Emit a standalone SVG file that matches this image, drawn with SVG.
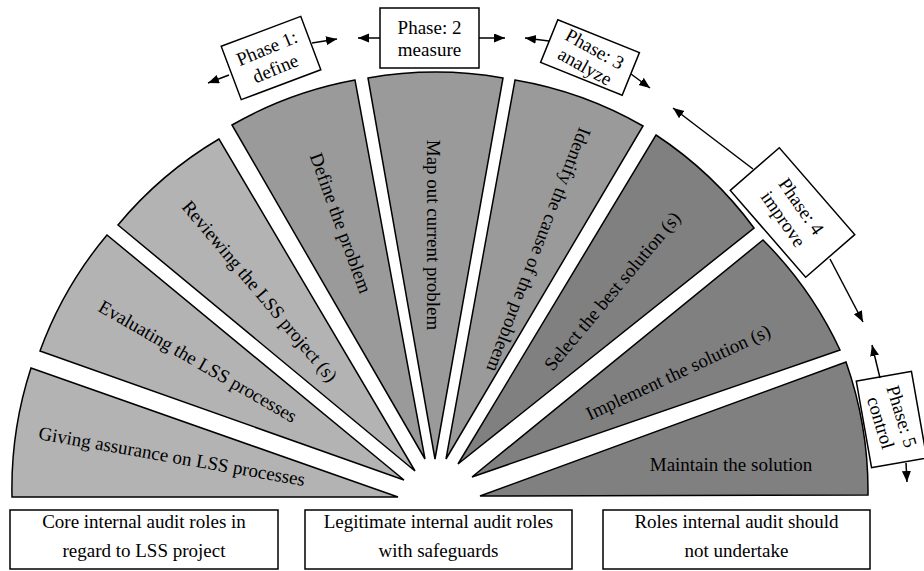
<svg xmlns="http://www.w3.org/2000/svg" width="924" height="571" viewBox="0 0 924 571">
<style>
.w{stroke:#000;stroke-width:1.5;stroke-linejoin:miter}
.l{fill:#b3b3b3}.m{fill:#9a9a9a}.d{fill:#808080}
text{font-family:"Liberation Serif","Times New Roman",serif;font-size:19px;fill:#000;text-anchor:middle}
.box{fill:#fff;stroke:#000;stroke-width:1.5}
.ar{stroke:#000;stroke-width:1.5;fill:none;marker-end:url(#ah)}
</style>
<defs>
<marker id="ah" markerUnits="userSpaceOnUse" markerWidth="12" markerHeight="10" refX="11" refY="4.5" orient="auto">
<path d="M0,0 L11,4.5 L0,9 z" fill="#000"/>
</marker>
</defs>
<rect width="924" height="571" fill="#fff"/>

<g id="w1"><path class="w l" d="M398,497 L12,497 A388,388 0 0 1 31,368 Z"/><text transform="translate(172,456) rotate(10)" dy="0.35em">Giving assurance on LSS processes</text></g>
<g id="w2"><path class="w l" d="M404,480 L40,351 A386,386 0 0 1 107,235 Z"/><text transform="translate(198,361) rotate(30)" dy="0.35em">Evaluating the LSS processes</text></g>
<g id="w3"><path class="w l" d="M415,471 L118,225 A386,386 0 0 1 219,139 Z"/><text transform="translate(260,291) rotate(50)" dy="0.35em">Reviewing the LSS project (s)</text></g>
<g id="w4"><path class="w m" d="M425,459 L232,125 A386,386 0 0 1 355,80 Z"/><text transform="translate(341,223) rotate(70)" dy="0.35em">Define the problem</text></g>
<g id="w5"><path class="w m" d="M435,459 L368,78 A387,387 0 0 1 503,78 Z"/><text transform="translate(434,235) rotate(90)" dy="0.35em">Map out current problem</text></g>
<g id="w6"><path class="w m" d="M446,459 L515,80 A386,386 0 0 1 643,126 Z"/><text transform="translate(539,250) rotate(111)" dy="0.35em">Identify the cause of the probleem</text></g>
<g id="w7"><path class="w d" d="M458,464 L656,135 A384,384 0 0 1 754,228 Z"/><text transform="translate(612,291) rotate(-50)" dy="0.35em">Select the best solution (s)</text></g>
<g id="w8"><path class="w d" d="M472,477 L763,240 A386,386 0 0 1 840,350 Z"/><text transform="translate(678,372) rotate(-25)" dy="0.35em">Implement the solution (s)</text></g>
<g id="w9"><path class="w d" d="M480,496 L846,362 A389,389 0 0 1 868,495 Z"/><text transform="translate(731,464)" dy="0.35em">Maintain the solution</text></g>

<g id="p1" transform="translate(271,58) rotate(-20.6)"><rect class="box" x="-42.5" y="-28.5" width="85" height="57"/><g transform="rotate(-2)"><text y="-11" dy="0.35em">Phase 1:</text><text y="11" dy="0.35em">define</text></g></g>
<g id="p2"><rect class="box" x="380" y="8" width="99" height="60"/><text x="429.5" y="27" dy="0.35em">Phase: 2</text><text x="429.5" y="49" dy="0.35em">measure</text></g>
<g id="p3" transform="translate(590,57.5) rotate(22)"><rect class="box" x="-44" y="-23" width="88" height="46"/><g transform="rotate(7)"><text y="-10" dy="0.35em">Phase: 3</text><text y="10" dy="0.35em">analyze</text></g></g>
<g id="p4" transform="translate(792.5,212.5) rotate(49)"><rect class="box" x="-57.5" y="-32.5" width="115" height="65"/><g transform="rotate(6)"><text y="-11" dy="0.35em">Phase: 4</text><text y="11" dy="0.35em">improve</text></g></g>
<g id="p5" transform="translate(891.5,419.5) rotate(80)"><rect class="box" x="-44" y="-28" width="88" height="56"/><g transform="rotate(-7)"><text y="-11" dy="0.35em">Phase: 5</text><text y="11" dy="0.35em">control</text></g></g>

<g id="connectors">
<line class="ar" x1="229" y1="75" x2="208" y2="83"/>
<line class="ar" x1="312" y1="43" x2="337" y2="39"/>
<line class="ar" x1="380" y1="38" x2="358" y2="38"/>
<line class="ar" x1="479" y1="38" x2="505" y2="38"/>
<line class="ar" x1="549" y1="41" x2="525" y2="38"/>
<line class="ar" x1="631" y1="74" x2="650" y2="88"/>
<line class="ar" x1="753" y1="169" x2="673" y2="108"/>
<line class="ar" x1="830" y1="259" x2="863" y2="322"/>
<line class="ar" x1="880" y1="378" x2="872" y2="345"/>
<line class="ar" x1="906" y1="463" x2="907" y2="482"/>
</g>

<g id="b1"><rect class="box" x="10" y="510" width="268" height="59"/><text x="144" y="528">Core internal audit roles in</text><text x="144" y="557">regard to LSS project</text></g>
<g id="b2"><rect class="box" x="305" y="510" width="267" height="59"/><text x="438.5" y="528">Legitimate internal audit roles</text><text x="438.5" y="557">with safeguards</text></g>
<g id="b3"><rect class="box" x="603" y="510" width="267" height="59"/><text x="736.5" y="528">Roles internal audit should</text><text x="736.5" y="557">not undertake</text></g>
</svg>
